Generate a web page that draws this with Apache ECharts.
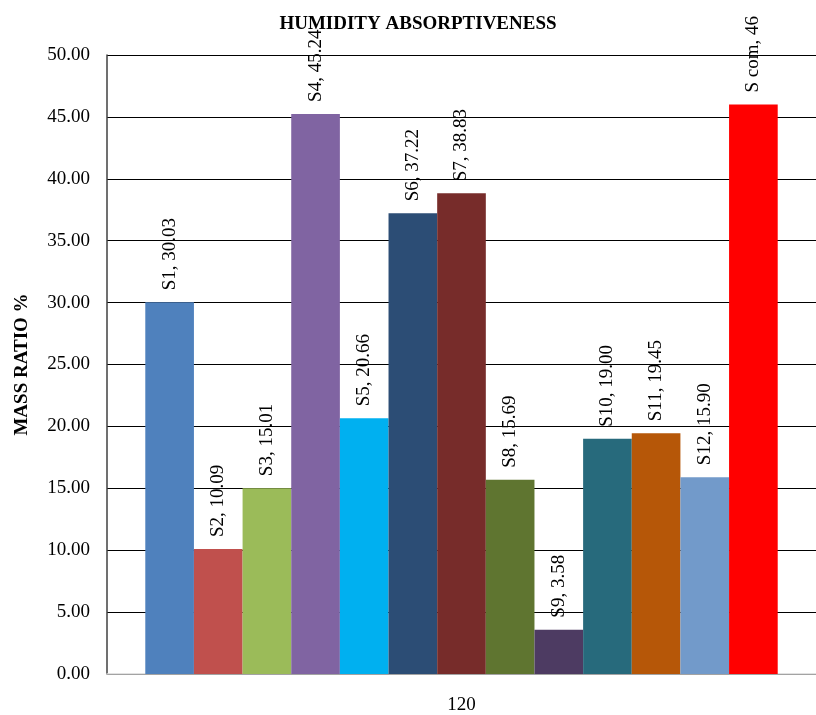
<!DOCTYPE html>
<html>
<head>
<meta charset="utf-8">
<script src="https://cdn.jsdelivr.net/npm/echarts@6/dist/echarts.min.js"></script>
<style>
  html, body { margin: 0; padding: 0; background: #fff; }
  #chart { width: 816px; height: 715px; }
</style>
</head>
<body>
<div id="chart"></div>
<script>
// Humidity absorptiveness after 120 (mass ratio %)
const categories = ['120'];
const sampleNames = ['S1', 'S2', 'S3', 'S4', 'S5', 'S6', 'S7', 'S8', 'S9', 'S10', 'S11', 'S12', 'S com'];
const sampleValues = ['30.03', '10.09', '15.01', '45.24', '20.66', '37.22', '38.83', '15.69', '3.58', '19.00', '19.45', '15.90', '46'];
const sampleColors = ['#4f81bd', '#c0504d', '#9bbb59', '#8064a2', '#00b0f0', '#2c4d75',
                      '#772c2a', '#5f7530', '#4d3b62', '#276a7c', '#b65708', '#729aca', '#ff0000'];
const yTicks = { min: 0, max: 50, interval: 5 };

const serif = '"Liberation Serif", "Times New Roman", serif';

const series = sampleNames.map((name, i) => ({
  name: name,
  type: 'bar',
  barGap: '0%',
  barCategoryGap: '10.8%',
  data: [Number(sampleValues[i])],
  itemStyle: { color: sampleColors[i] },
  label: {
    show: true,
    position: 'top',
    rotate: 90,
    align: 'left',
    verticalAlign: 'middle',
    distance: 12,
    fontFamily: serif,
    fontSize: 19,
    color: '#000',
    formatter: () => name + ', ' + sampleValues[i]
  }
}));

const chart = echarts.init(document.getElementById('chart'), null, { renderer: 'canvas' });
chart.setOption({
  animation: false,
  backgroundColor: '#fff',
  title: {
    text: 'HUMIDITY ABSORPTIVENESS',
    left: 413,
    top: 10,
    textAlign: 'center',
    textStyle: { fontFamily: serif, fontSize: 19, fontWeight: 'bold', color: '#000' }
  },
  grid: { left: 107, top: 55, width: 716, height: 620, containLabel: false },
  xAxis: {
    type: 'category',
    data: categories,
    axisLine: { show: true, lineStyle: { color: '#d9d9d9', width: 1.5 } },
    axisTick: { show: false },
    axisLabel: { fontFamily: serif, fontSize: 19, color: '#000', margin: 22 }
  },
  yAxis: {
    type: 'value',
    min: yTicks.min,
    max: yTicks.max,
    interval: yTicks.interval,
    name: 'MASS RATIO %',
    nameLocation: 'middle',
    nameGap: 75,
    nameRotate: 90,
    nameTextStyle: { fontFamily: serif, fontSize: 19, fontWeight: 'bold', color: '#000' },
    axisLine: { show: true, lineStyle: { color: '#404040', width: 1.5 } },
    axisTick: { show: false },
    splitLine: { show: true, lineStyle: { color: '#000', width: 1.2 } },
    axisLabel: {
      fontFamily: serif, fontSize: 19, color: '#000', margin: 17,
      formatter: v => v.toFixed(2)
    }
  },
  series: series
});
</script>
</body>
</html>
